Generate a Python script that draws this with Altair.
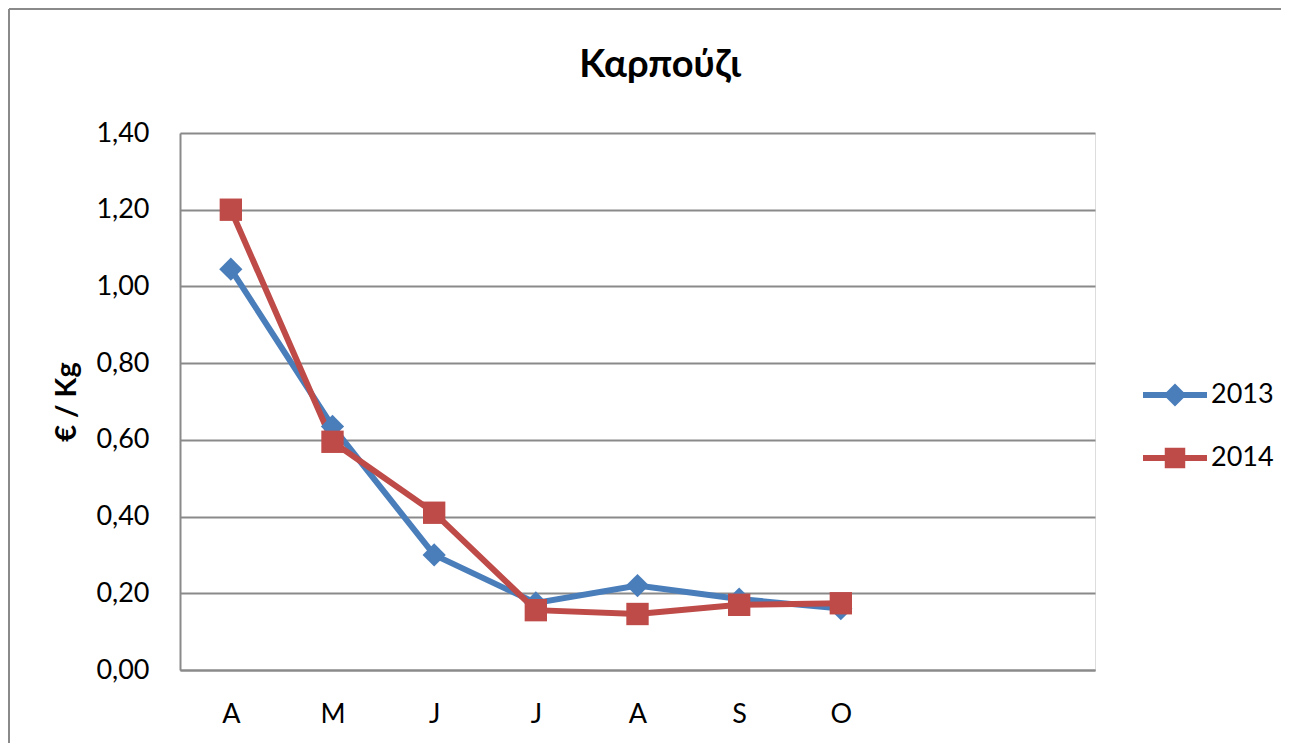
import altair as alt
import pandas as pd

month_keys = ["Apr", "May", "Jun", "Jul", "Aug", "Sep", "Oct", "Nov", "Dec"]
month_labels = ["A", "M", "J", "J", "A", "S", "O", "", ""]
data_months = ["Apr", "May", "Jun", "Jul", "Aug", "Sep", "Oct"]
values_2013 = [1.045, 0.635, 0.30, 0.175, 0.22, 0.185, 0.16]
values_2014 = [1.20, 0.595, 0.41, 0.156, 0.146, 0.17, 0.174]
years = ["2013", "2014"]
colors = ["#4A7EBB", "#BE4B48"]
marker_shapes = ["diamond", "square"]
title_text = "Καρπούζι"
y_title = "€ / Kg"

rows = []
for m, v in zip(data_months, values_2013):
    rows.append({"month": m, "value": v, "year": "2013"})
for m, v in zip(data_months, values_2014):
    rows.append({"month": m, "value": v, "year": "2014"})
df = pd.DataFrame(rows)

label_map = "{" + ",".join(f"'{k}':'{l}'" for k, l in zip(month_keys, month_labels)) + "}"

FONT = "Lato"

x_enc = alt.X(
    "month:N",
    scale=alt.Scale(domain=month_keys, type="point", padding=0.5),
    axis=alt.Axis(
        title=None,
        labelExpr=f"{label_map}[datum.value]",
        labelAngle=0,
        labelFontSize=27,
        labelFont=FONT,
        labelColor="#000000",
        labelPadding=31,
        ticks=False,
        domainColor="#8A8A8A",
        domainWidth=2,
        grid=False,
    ),
)
y_enc = alt.Y(
    "value:Q",
    scale=alt.Scale(domain=[0, 1.4], nice=False),
    axis=alt.Axis(
        title=y_title,
        titleFont=FONT,
        titleFontSize=29,
        titleFontWeight="bold",
        titleColor="#000000",
        titlePadding=14,
        values=[0, 0.2, 0.4, 0.6, 0.8, 1.0, 1.2, 1.4],
        labelExpr="replace(format(datum.value, '.2f'), '.', ',')",
        labelFontSize=27,
        labelFont=FONT,
        labelColor="#000000",
        labelPadding=31,
        ticks=False,
        domainColor="#8A8A8A",
        domainWidth=2,
        grid=True,
        gridColor="#8A8A8A",
        gridWidth=2,
    ),
)

path_2013 = "M-1,-0.09L1,-0.09L1,0.09L-1,0.09Z M0,-0.36L0.36,0L0,0.36L-0.36,0Z"
path_2014 = "M-1,-0.09L1,-0.09L1,0.09L-1,0.09Z M-0.32,-0.32L0.32,-0.32L0.32,0.32L-0.32,0.32Z"

legend = alt.Legend(
    title=None,
    orient="none",
    legendX=963,
    legendY=230,
    labelFont=FONT,
    labelFontSize=27,
    labelColor="#000000",
    labelOffset=4,
    symbolSize=4096,
    symbolStrokeWidth=0,
    symbolOpacity=1,
    rowPadding=18,
)

lines = alt.Chart(df).mark_line(strokeWidth=6).encode(
    x=x_enc,
    y=y_enc,
    stroke=alt.Stroke("year:N", scale=alt.Scale(domain=years, range=colors), legend=None),
)

points = alt.Chart(df).mark_point(filled=True, opacity=1, strokeWidth=1).encode(
    x=x_enc,
    y=y_enc,
    fill=alt.Fill("year:N", scale=alt.Scale(domain=years, range=colors), legend=None),
    shape=alt.Shape("year:N", scale=alt.Scale(domain=years, range=marker_shapes), legend=None),
    size=alt.Size("year:N", scale=alt.Scale(domain=years, range=[540, 500]), legend=None),
)

legend_layer = alt.Chart(df).transform_filter("false").mark_point(filled=True).encode(
    x=x_enc,
    y=y_enc,
    color=alt.Color("year:N", scale=alt.Scale(domain=years, range=colors), legend=legend),
    shape=alt.Shape("year:N", scale=alt.Scale(domain=years, range=[path_2013, path_2014]), legend=legend),
)

one = pd.DataFrame({"t": [title_text]})
frame_top = alt.Chart(one).mark_rule(color="#8A8A8A", strokeWidth=2).encode(
    x=alt.value(-171), x2=alt.value(1125), y=alt.value(-124)
)
frame_left = alt.Chart(one).mark_rule(color="#8A8A8A", strokeWidth=2).encode(
    x=alt.value(-171), y=alt.value(-124), y2=alt.value(640)
)
title_mark = alt.Chart(one).mark_text(
    font=FONT, fontSize=38, fontWeight="bold", color="#000000", align="center", baseline="middle"
).encode(
    text="t:N", x=alt.value(480), y=alt.value(-67)
)

chart = alt.layer(frame_top, frame_left, title_mark, lines, points, legend_layer).resolve_scale(
    shape="independent", size="independent", fill="independent", stroke="independent", color="independent"
).properties(
    width=915,
    height=537,
    padding={"left": 172, "top": 125, "right": 186, "bottom": 73},
    autosize=alt.AutoSizeParams(type="none"),
).configure_view(stroke=None).configure(background="#FFFFFF")

chart.save("out.html", embed_options={"renderer": "svg", "actions": False})
